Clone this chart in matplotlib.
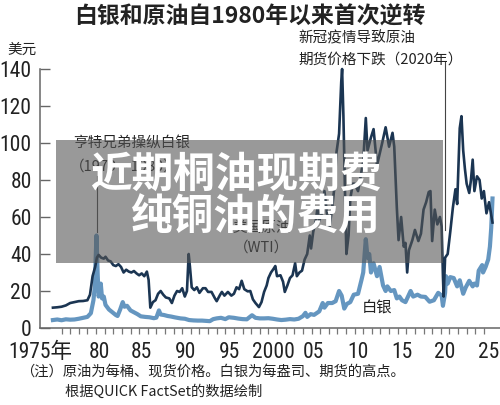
import matplotlib
matplotlib.use('Agg')
import matplotlib.pyplot as plt
from matplotlib import font_manager
from matplotlib.patches import Rectangle

# WTI crude, dollars per barrel
oil_years = [1975.0, 1975.5, 1976.0, 1976.5, 1977.0, 1977.5, 1978.0, 1978.5, 1979.0, 1979.3,
             1979.6, 1979.9, 1980.1, 1980.3, 1980.6, 1980.9, 1981.1, 1981.4, 1981.7, 1982.0,
             1982.3, 1982.6, 1982.9, 1983.2, 1983.5, 1983.8, 1984.1, 1984.4, 1984.7, 1985.0,
             1985.3, 1985.6, 1985.9, 1986.1, 1986.3, 1986.6, 1986.9, 1987.2, 1987.5, 1987.8,
             1988.1, 1988.5, 1988.8, 1989.1, 1989.4, 1989.7, 1990.0, 1990.3, 1990.55, 1990.75,
             1990.9, 1991.1, 1991.4, 1991.7, 1992.0, 1992.4, 1992.7, 1993.0, 1993.4, 1993.8,
             1994.0, 1994.4, 1994.6, 1994.9, 1995.3, 1995.7, 1996.0, 1996.3, 1996.6, 1996.9,
             1997.2, 1997.6, 1997.9, 1998.2, 1998.5, 1998.9, 1999.2, 1999.5, 1999.8, 2000.0,
             2000.3, 2000.6, 2000.8, 2001.0, 2001.4, 2001.7, 2001.9, 2002.2, 2002.5, 2002.8,
             2003.1, 2003.3, 2003.6, 2003.9, 2004.2, 2004.5, 2004.8, 2004.95, 2005.2, 2005.5,
             2005.7, 2005.9, 2006.2, 2006.5, 2006.9, 2007.1, 2007.4, 2007.7, 2007.9, 2008.2,
             2008.45, 2008.55, 2008.7, 2008.9, 2009.05, 2009.3, 2009.5, 2009.8, 2010.0, 2010.4,
             2010.7, 2011.0, 2011.3, 2011.5, 2011.9, 2012.2, 2012.6, 2012.9, 2013.2, 2013.6,
             2014.0, 2014.4, 2014.6, 2014.9, 2015.1, 2015.4, 2015.7, 2015.9, 2016.1, 2016.3,
             2016.7, 2017.0, 2017.4, 2017.7, 2018.0, 2018.3, 2018.6, 2018.8, 2019.0, 2019.3,
             2019.6, 2019.9, 2020.1, 2020.25, 2020.33, 2020.5, 2020.8, 2021.1, 2021.4, 2021.7,
             2021.9, 2022.2, 2022.4, 2022.6, 2022.8, 2023.0, 2023.3, 2023.5, 2023.7, 2023.9,
             2024.2, 2024.5, 2024.75, 2025.0, 2025.3, 2025.6, 2026.0]
oil_price = [11.0, 11.2, 11.5, 12.2, 13.5, 14.0, 14.5, 14.6, 15.0, 18,
             28, 33, 38, 39.5, 38, 37.5, 38.5, 36.5, 36, 34,
             33.5, 34.5, 33, 30, 31.5, 30.5, 30, 30.8, 29.5, 28.5,
             29.5, 28, 30.5, 26, 11, 14, 15, 18.5, 20, 18,
             16.5, 16, 13.5, 17.5, 20, 19.5, 21.5, 17, 20, 40,
             33, 22, 20.5, 22, 19, 21.5, 21.5, 19.5, 19.5, 16,
             14.5, 18, 19.5, 17.5, 19.5, 17.5, 18.5, 22, 21, 25.5,
             21, 19.8, 20, 15.5, 13.5, 11.3, 14, 19.5, 23, 27,
             30, 32, 33.5, 28, 28.5, 25, 19.5, 23, 27, 28.5,
             35, 28, 30, 31, 37, 40, 50, 43, 52, 58,
             65, 58, 62, 74, 58, 55, 65, 78, 95, 105,
             133, 140, 115, 70, 40, 50, 70, 78, 78, 74,
             82, 90, 113.5, 96, 103, 107.5, 88, 94, 100, 108.5,
             98, 105.5, 98, 65, 47.5, 60, 44, 46, 30, 42,
             47.5, 53, 47, 51, 64, 68, 73.5, 74, 47, 64,
             56, 60, 55, 28, 17, 38, 40, 52, 65, 75,
             67, 108, 114.5, 96, 86, 78, 73, 80, 91, 74,
             82, 80, 70, 74, 62, 68, 57]

# silver futures, dollars per ounce
silver_years = [1975.0, 1975.5, 1976.0, 1976.5, 1977.0, 1977.5, 1978.0, 1978.5, 1979.0, 1979.4,
                1979.7, 1979.85, 1980.05, 1980.2, 1980.3, 1980.45, 1980.55, 1980.7, 1980.9, 1981.1,
                1981.5, 1981.9, 1982.3, 1982.5, 1982.8, 1983.1, 1983.3, 1983.6, 1984.0, 1984.4,
                1984.8, 1985.2, 1985.7, 1986.2, 1986.7, 1987.0, 1987.3, 1987.5, 1987.9, 1988.3,
                1988.7, 1989.2, 1989.8, 1990.3, 1990.8, 1991.3, 1991.8, 1992.3, 1992.8, 1993.2,
                1993.6, 1994.0, 1994.5, 1995.0, 1995.4, 1996.0, 1996.5, 1997.0, 1997.5, 1998.1,
                1998.5, 1999.0, 1999.5, 2000.0, 2000.5, 2001.0, 2001.5, 2002.0, 2002.5, 2003.0,
                2003.5, 2004.0, 2004.3, 2004.5, 2004.9, 2005.3, 2005.9, 2006.3, 2006.5, 2006.9,
                2007.4, 2007.8, 2008.2, 2008.5, 2008.8, 2009.1, 2009.5, 2009.9, 2010.4, 2010.8,
                2011.0, 2011.3, 2011.5, 2011.7, 2011.9, 2012.2, 2012.6, 2012.9, 2013.3, 2013.6,
                2013.8, 2014.2, 2014.6, 2014.9, 2015.2, 2015.5, 2015.9, 2016.5, 2016.8, 2017.3,
                2017.7, 2018.2, 2018.7, 2019.2, 2019.7, 2020.1, 2020.25, 2020.5, 2020.6, 2020.8,
                2021.1, 2021.5, 2021.9, 2022.2, 2022.6, 2022.9, 2023.3, 2023.7, 2023.9, 2024.2,
                2024.4, 2024.8, 2024.9, 2025.2, 2025.5, 2025.7, 2025.85, 2026.0]
silver_price = [4.3, 4.6, 4.2, 4.7, 4.5, 4.6, 5.0, 5.5, 6.0, 8,
                15, 22, 50, 28, 17, 20, 24, 16, 17, 12.5,
                10, 8.5, 7, 6.5, 10, 14, 11.5, 12, 9.5, 8.5,
                7.5, 6.3, 6, 5.8, 5.3, 5.6, 9.5, 7.3, 7.0, 6.5,
                6.2, 5.7, 5.2, 5.0, 4.3, 4.1, 4.0, 4.0, 3.8, 3.7,
                4.8, 5.2, 5.5, 4.8, 5.8, 5.5, 5.1, 4.8, 4.7, 6.9,
                5.5, 5.2, 5.2, 5.3, 5.0, 4.6, 4.3, 4.5, 4.8, 4.6,
                5.0, 6.4, 8.2, 6.0, 7.5, 7.1, 9.0, 13.5, 11.0, 13.5,
                13.5, 14.5, 20, 17.5, 10.5, 13, 14, 18, 18.5, 26,
                30, 48, 38, 40, 30, 35, 28, 33, 23, 20,
                22.5, 20, 20.5, 16, 17, 15, 14, 20, 17, 18,
                17, 16.8, 14.2, 15, 19, 17.5, 12, 19, 28, 24,
                27.5, 27, 22.5, 25.8, 18.5, 22, 25.5, 22.5, 24, 23,
                31, 34, 30, 33, 37, 44, 54, 70]

y_ticks = [0, 20, 40, 60, 80, 100, 120, 140]
x_label_pos = [1973.5, 1980.35, 1985.3, 1990.4, 1995.5, 2000.6, 2005.2, 2010.4, 2015.5, 2020.5, 2025.5]
x_labels = ['1975年', '80', '85', '90', '95', '2000', '05', '10', '15', '20', '25']
year_ticks = list(range(1976, 2026))

cjk = ['Noto Sans CJK SC', 'DejaVu Sans']
installed = {f.name for f in font_manager.fontManager.ttflist}
num_font = ['Liberation Sans', 'Noto Sans CJK SC']
num_size = 13
for cand in ['Liberation Sans Narrow', 'Roboto Condensed', 'Open Sans Condensed']:
    if cand in installed:
        num_font = [cand, 'Noto Sans CJK SC']
        num_size = 15.5
        break
plt.rcParams['font.family'] = cjk

W, H = 500, 405
fig = plt.figure(figsize=(5.0, 4.05), dpi=100)
ax = fig.add_axes([40 / W, 1 - 328 / H, 1 - 40 / W, (328 - 69) / H])

oil_color = '#1b3552'
silver_color = '#6596c0'
ax.plot(silver_years, silver_price, color=silver_color, lw=3.0, solid_joinstyle='round', clip_on=False, zorder=3)
ax.plot(oil_years, oil_price, color=oil_color, lw=1.9, solid_joinstyle='round', clip_on=False, zorder=4)

ax.set_xlim(1973.8, 2026.87)
ax.set_ylim(0, 140)

for side in ['top', 'right']:
    ax.spines[side].set_visible(False)
for side in ['left', 'bottom']:
    ax.spines[side].set_color('#666666')
    ax.spines[side].set_linewidth(1.1)

ax.set_yticks(y_ticks)
ax.set_yticklabels([str(v) for v in y_ticks], family=num_font, fontsize=num_size, color='#222222')
ax.tick_params(axis='y', direction='in', length=7.5, width=1, color='#666666', pad=6)

ax.set_xticks(x_label_pos)
ax.set_xticklabels(x_labels, family=num_font, fontsize=num_size, color='#222222')
ax.set_xticks(year_ticks, minor=True)
ax.tick_params(axis='x', which='major', length=0, pad=10)
ax.tick_params(axis='x', which='minor', direction='out', length=4.5, width=0.9, color='#777777')

# annotation lines
ax.plot([1980.07, 1980.07], [82, 52], color='#444444', lw=0.8, zorder=2)
ax.plot([2020.5, 2020.5], [143.8, 53], color='#444444', lw=0.8, zorder=2, clip_on=False)

txt = '#222222'
fig.text(0.5, 1 - 17 / H, '白银和原油自1980年以来首次逆转', ha='center', va='center',
         fontsize=16.5, fontweight='bold', color=txt)
fig.text(7 / W, 1 - 50 / H, '美元', ha='left', va='center', fontsize=10.5, color=txt)
fig.text(298 / W, 1 - 38 / H, '新冠疫情导致原油', ha='left', va='center', fontsize=10.5, color=txt)
fig.text(298 / W, 1 - 60 / H, '期货价格下跌（2020年）', ha='left', va='center', fontsize=10.5, color=txt)
fig.text(73 / W, 1 - 143 / H, '亨特兄弟操纵白银', ha='left', va='center', fontsize=10.5, color=txt)
fig.text(70 / W, 1 - 167 / H, '（1979～1980）', ha='left', va='center', fontsize=10.5, color=txt)
fig.text(262 / W, 1 - 228 / H, '美国原油', ha='center', va='center', fontsize=10.5, color=txt)
fig.text(262 / W, 1 - 248 / H, '（WTI）', ha='center', va='center', fontsize=10.5, color=txt)
fig.text(377 / W, 1 - 308 / H, '白银', ha='center', va='center', fontsize=11, color=txt)
fig.text(20 / W, 1 - 372 / H, '（注）原油为每桶、现货价格。白银为每盎司、期货的高点。',
         ha='left', va='center', fontsize=10.3, color=txt)
fig.text(65 / W, 1 - 392 / H, '根据QUICK FactSet的数据绘制', ha='left', va='center', fontsize=10.3, color=txt)

# grey banner laid over the chart
fig.patches.append(Rectangle((56 / W, 1 - 263 / H), (443 - 56) / W, (263 - 140) / H,
                             transform=fig.transFigure, facecolor='#555555', alpha=0.6,
                             edgecolor='none', zorder=10))
fig.text(381 / W, 1 - 175 / H, '近期桐油现期费', ha='right', va='center', fontsize=30,
         fontweight='bold', color='white', zorder=11)
fig.text(381 / W, 1 - 218 / H, '纯铜油的费用', ha='right', va='center', fontsize=30,
         fontweight='bold', color='white', zorder=11)

fig.savefig('out.png', dpi=100)
plt.close(fig)
